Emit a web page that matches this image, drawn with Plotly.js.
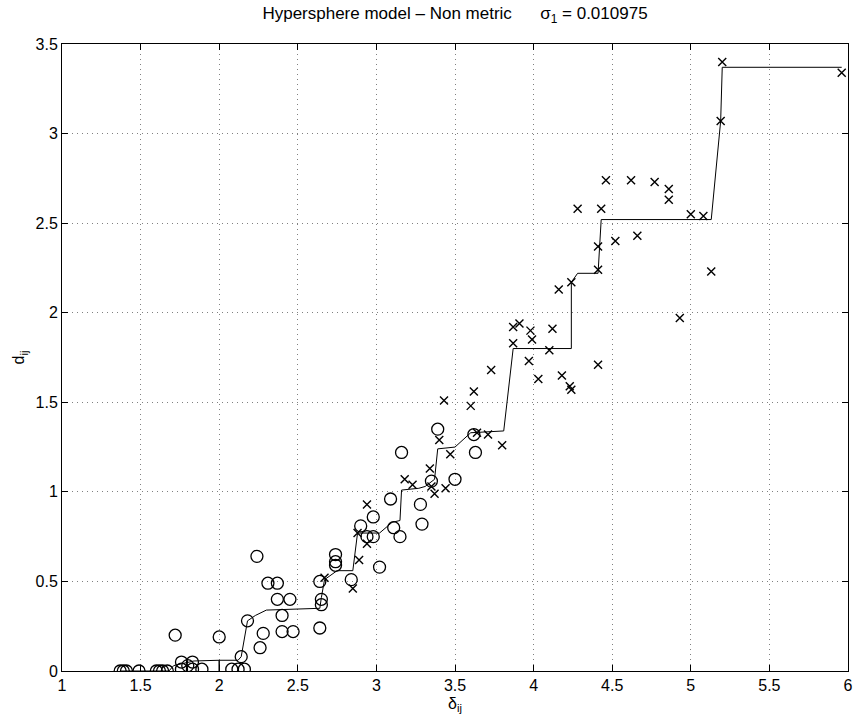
<!DOCTYPE html>
<html>
<head>
<meta charset="utf-8">
<script src="https://cdn.plot.ly/plotly-3.0.1.min.js"></script>
<style>html,body{margin:0;padding:0;background:#fff;}#chart{width:866px;height:724px;}</style>
</head>
<body>
<div id="chart"></div>
<script>
// Circles (o) : delta_ij, d_ij
const circleX = [1.37,1.39,1.41,1.49,1.60,1.62,1.64,1.67,1.72,1.76,1.76,1.83,1.83,1.89,1.80,2.00,2.08,2.12,2.16,2.14,2.18,2.28,2.26,2.24,2.31,2.37,2.37,2.45,2.40,2.40,2.47,2.64,2.64,2.65,2.65,2.74,2.74,2.74,2.84,2.90,2.98,2.94,2.98,3.02,3.09,3.11,3.15,3.16,3.28,3.29,3.35,3.39,3.50,3.62,3.63];
const circleY = [0,0,0,0,0,0,0,0,0.20,0.05,0.01,0.05,0.01,0.01,0.03,0.19,0.01,0.01,0.01,0.08,0.28,0.21,0.13,0.64,0.49,0.49,0.40,0.40,0.31,0.22,0.22,0.24,0.50,0.40,0.37,0.65,0.61,0.59,0.51,0.81,0.86,0.75,0.75,0.58,0.96,0.80,0.75,1.22,0.93,0.82,1.06,1.35,1.07,1.32,1.22];
// Crosses (x) : delta_ij, d_ij
const crossX = [2.67,2.85,2.89,2.94,2.88,2.94,3.18,3.23,3.34,3.35,3.37,3.44,3.40,3.43,3.47,3.64,3.71,3.80,3.60,3.62,3.73,3.87,3.91,3.87,3.98,3.99,4.12,4.10,3.97,4.03,4.18,4.23,4.24,4.41,4.46,4.62,4.77,4.86,4.86,4.28,4.43,5.00,5.08,4.66,4.52,4.41,4.41,4.24,4.16,5.13,4.93,5.20,5.96,5.19];
const crossY = [0.52,0.46,0.62,0.93,0.77,0.71,1.07,1.04,1.13,1.03,0.99,1.02,1.29,1.51,1.21,1.33,1.32,1.26,1.48,1.56,1.68,1.92,1.94,1.83,1.90,1.85,1.91,1.79,1.73,1.63,1.65,1.59,1.57,1.71,2.74,2.74,2.73,2.69,2.63,2.58,2.58,2.55,2.54,2.43,2.40,2.37,2.24,2.17,2.13,2.23,1.97,3.40,3.34,3.07];
// Monotone regression (disparities) line
const fitX = [1.37,1.68,1.71,1.84,2.00,2.00,2.00,2.12,2.14,2.18,2.23,2.30,2.64,2.65,2.67,2.75,2.85,2.88,3.02,3.10,3.15,3.16,3.27,3.31,3.35,3.37,3.39,3.50,3.60,3.81,3.87,4.24,4.24,4.28,4.41,4.43,5.13,5.19,5.20,5.96];
const fitY = [0,0,0.03,0.056,0.06,0,0.06,0.06,0.08,0.28,0.31,0.34,0.35,0.41,0.51,0.56,0.56,0.77,0.77,0.83,0.84,1.01,1.02,1.03,1.06,1.07,1.24,1.25,1.33,1.34,1.80,1.80,2.17,2.22,2.22,2.52,2.52,3.07,3.37,3.37];
const xTicks = [1,1.5,2,2.5,3,3.5,4,4.5,5,5.5,6];
const yTicks = [0,0.5,1,1.5,2,2.5,3,3.5];

const font = {family:'"Liberation Sans", Arial, sans-serif', size:16, color:'#000'};
const traces = [
  {x:fitX, y:fitY, mode:'lines', line:{color:'#000', width:1}, hoverinfo:'skip'},
  {x:circleX, y:circleY, mode:'markers', marker:{symbol:'circle-open', size:12, color:'#000', line:{width:1.3, color:'#000'}}},
  {x:crossX, y:crossY, mode:'markers', marker:{symbol:'x-thin-open', size:8, color:'#000', line:{width:1.4, color:'#000'}}}
];
const axisCommon = {
  showline:true, linecolor:'#000', linewidth:1, mirror:'ticks',
  ticks:'inside', ticklen:6, tickcolor:'#000', tickwidth:1,
  showgrid:true, gridcolor:'#808080', griddash:'1px,4px', gridwidth:1,
  zeroline:false, tickfont:font
};
const layout = {
  width:866, height:724,
  margin:{l:62, r:18, t:44, b:53},
  paper_bgcolor:'#fff', plot_bgcolor:'#fff',
  showlegend:false, font:font,
  title:{text:'Hypersphere model \u2013 Non metric      \u03c3<sub>1</sub> = 0.010975', font:{...font, size:17}, x:0.5, xref:'paper', y:1-13/724, yref:'container', yanchor:'middle'},
  xaxis:{...axisCommon, range:[1,6], tickvals:xTicks, ticktext:xTicks.map(String)},
  yaxis:{...axisCommon, range:[0,3.5], tickvals:yTicks, ticktext:yTicks.map(String),
    title:{text:'d<sub>ij</sub>', font:font, standoff:6}},
  annotations:[{text:'\u03b4<sub>ij</sub>', font:font, showarrow:false, xref:'paper', yref:'paper', x:0.5, y:0, xanchor:'center', yanchor:'top', yshift:-22}]
};
Plotly.newPlot('chart', traces, layout, {displayModeBar:false, staticPlot:true});
</script>
</body>
</html>
